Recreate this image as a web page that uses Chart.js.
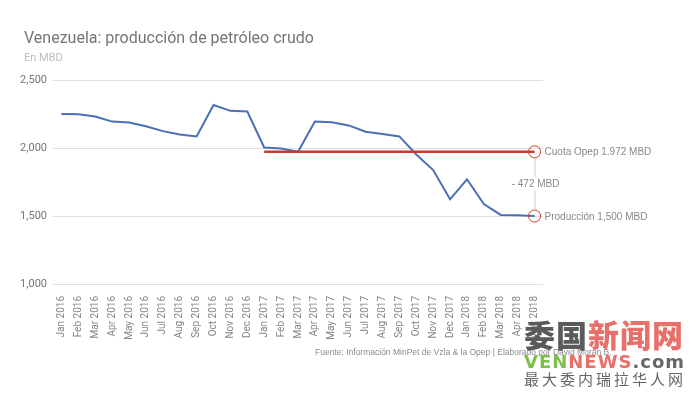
<!DOCTYPE html>
<html>
<head>
<meta charset="utf-8">
<script src="https://cdn.jsdelivr.net/npm/chart.js@4.4.4/dist/chart.umd.min.js"></script>
<style>
  html, body { margin: 0; padding: 0; background: #fff; }
  #caja { position: relative; width: 692px; height: 393px; overflow: hidden; }
  #grafico { position: absolute; left: 0; top: 0; }
  .marca { position: absolute; left: 524px; width: 162px; font-family: "Noto Sans CJK SC", sans-serif; white-space: nowrap; }
  #m1 { top: 317px; font-size: 31px; font-weight: 900; letter-spacing: 1px; line-height: 34px; }
  #m2 { top: 352px; font-family: "DejaVu Sans", sans-serif; font-size: 18px; font-weight: 700; line-height: 20px; letter-spacing: 1px; }
  #m3 { top: 370px; font-size: 15px; line-height: 18px; color: #666; letter-spacing: 3px; }
</style>
</head>
<body>
<div id="caja">
  <canvas id="grafico" width="692" height="393"></canvas>
  <div class="marca" id="m1"><span style="color:#5a5a5a">委国</span><span style="color:#e8706a">新闻网</span></div>
  <div class="marca" id="m2"><span style="color:#7cc04a">VEN</span><span style="color:#e8706a">NEWS</span><span style="color:#666">.com</span></div>
  <div class="marca" id="m3">最大委内瑞拉华人网</div>
</div>
<script>
/* ── Datos ── */
const meses = [
  'Jan 2016', 'Feb 2016', 'Mar 2016', 'Apr 2016', 'May 2016', 'Jun 2016',
  'Jul 2016', 'Aug 2016', 'Sep 2016', 'Oct 2016', 'Nov 2016', 'Dec 2016',
  'Jan 2017', 'Feb 2017', 'Mar 2017', 'Apr 2017', 'May 2017', 'Jun 2017',
  'Jul 2017', 'Aug 2017', 'Sep 2017', 'Oct 2017', 'Nov 2017', 'Dec 2017',
  'Jan 2018', 'Feb 2018', 'Mar 2018', 'Apr 2018', 'May 2018'
];

const produccion = [
  2250, 2248, 2232, 2194, 2188, 2160,
  2124, 2100, 2085, 2316, 2273, 2268,
  2004, 1996, 1972, 2194, 2189, 2166,
  2120, 2103, 2085, 1952, 1838, 1623,
  1770, 1588, 1508, 1505, 1500
];

const cuotaOpep = [
  null, null, null, null, null, null,
  null, null, null, null, null, null,
  1972, 1972, 1972, 1972, 1972, 1972,
  1972, 1972, 1972, 1972, 1972, 1972,
  1972, 1972, 1972, 1972, 1972
];

const ticksY = [1000, 1500, 2000, 2500];

const ultimo = meses.length - 1;
const AZUL = '#4a6fb5';
const ROJO = '#c43d2c';
const GRIS = '#757575';

/* ── Textos fijos y anotación final ── */
const textos = {
  id: 'textos',
  afterDraw(chart) {
    const c = chart.ctx;
    const x = chart.scales.x;
    const y = chart.scales.y;
    const px = x.getPixelForValue(ultimo);
    const yCuota = y.getPixelForValue(cuotaOpep[ultimo]);
    const yProd = y.getPixelForValue(produccion[ultimo]);

    c.save();
    c.textBaseline = 'middle';

    // título y subtítulo
    c.fillStyle = GRIS;
    c.font = '16px Roboto';
    c.fillText('Venezuela: producción de petróleo crudo', 24, 39);
    c.fillStyle = '#bdbdbd';
    c.font = '11px Roboto';
    c.fillText('En MBD', 24, 58);

    // conector vertical
    c.strokeStyle = '#cccccc';
    c.lineWidth = 1;
    c.beginPath();
    c.moveTo(px + 0.5, yCuota + 6);
    c.lineTo(px + 0.5, yProd - 6);
    c.stroke();

    // etiqueta de diferencia con fondo blanco
    c.font = '10px "Liberation Sans"';
    const dif = '- 472 MBD';
    const w = c.measureText(dif).width;
    const ym = (yCuota + yProd) / 2;
    c.fillStyle = '#fff';
    c.fillRect(px - w / 2 - 1, ym - 7, w + 2, 14);
    c.fillStyle = '#888';
    c.textAlign = 'center';
    c.fillText(dif, px + 1, ym);

    // etiquetas de los marcadores
    c.textAlign = 'left';
    c.font = '10px "Liberation Sans"';
    c.fillText('Cuota Opep 1.972 MBD', px + 10, yCuota);
    c.fillText('Producción 1,500 MBD', px + 10, yProd + 1);

    // fuente
    c.font = '8.5px "Liberation Sans"';
    c.fillStyle = '#8a8a8a';
    c.fillText('Fuente: Información MinPet de Vzla & la Opep | Elaborado por David Morán B.', 315, 353);
    c.restore();
  }
};

function radioFinal(ctx) {
  return ctx.dataIndex === ultimo ? 6 : 0;
}

new Chart(document.getElementById('grafico'), {
  type: 'line',
  data: {
    labels: meses,
    datasets: [
      {
        label: 'Cuota Opep',
        data: cuotaOpep,
        borderColor: ROJO,
        borderWidth: 2.5,
        pointRadius: radioFinal,
        pointBorderColor: ROJO,
        pointBackgroundColor: 'rgba(0,0,0,0)',
        pointBorderWidth: 1,
        tension: 0,
        fill: false,
        order: 1
      },
      {
        label: 'Producción',
        data: produccion,
        borderColor: AZUL,
        borderWidth: 2,
        pointRadius: radioFinal,
        pointBorderColor: ROJO,
        pointBackgroundColor: 'rgba(0,0,0,0)',
        pointBorderWidth: 1,
        tension: 0,
        fill: false,
        order: 2
      }
    ]
  },
  options: {
    responsive: false,
    animation: false,
    layout: { padding: { top: 80, right: 149, bottom: 0, left: 0 } },
    plugins: {
      legend: { display: false },
      tooltip: { enabled: false }
    },
    scales: {
      x: {
        offset: true,
        grid: { display: false },
        border: { display: false },
        afterFit(s) { s.height = 109; },
        ticks: {
          autoSkip: false,
          minRotation: 90,
          maxRotation: 90,
          padding: 4,
          color: '#858585',
          font: { family: 'Roboto', size: 10 }
        }
      },
      y: {
        min: 1000,
        max: 2500,
        afterFit(s) { s.width = 53; },
        afterBuildTicks(s) { s.ticks = ticksY.map(v => ({ value: v })); },
        grid: { color: '#e0e0e0', drawTicks: false },
        border: { display: false },
        ticks: {
          padding: 6,
          color: GRIS,
          font: { family: 'Roboto', size: 11 },
          callback: v => v.toLocaleString('en-US')
        }
      }
    }
  },
  plugins: [textos]
});
</script>
</body>
</html>
